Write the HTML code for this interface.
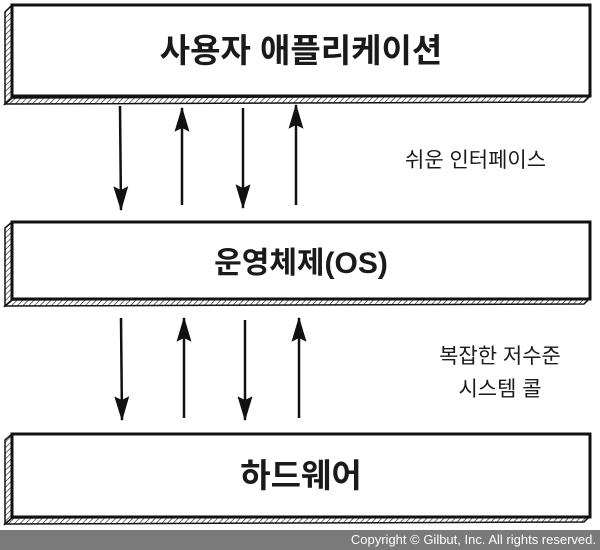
<!DOCTYPE html>
<html><head><meta charset="utf-8"><style>
body{margin:0;width:600px;height:550px;background:#fff;position:relative;overflow:hidden;font-family:"Liberation Sans","Noto Sans CJK KR","NanumGothic",sans-serif;}
.t{position:absolute;color:#1a1a1a;}
</style></head><body>
<svg width="600" height="550" style="position:absolute;left:0;top:0">
<defs>
<pattern id="h" width="4" height="4" patternUnits="userSpaceOnUse" patternTransform="rotate(45)"><line x1="0" y1="0" x2="0" y2="4" stroke="#222" stroke-width="1.3"/></pattern>
<marker id="a" viewBox="0 0 20 12" refX="19" refY="6" markerWidth="10" markerHeight="6" orient="auto"><path d="M0,0 L20,6 L0,12 L3,6z" fill="#111"/></marker>
</defs>
<g stroke="#111" stroke-width="3" fill="#fff">
<path d="M5,12 L12,5 L12,98 L5,104z" fill="url(#h)" stroke-width="1.5"/>
<path d="M5,104 L12,98 L590,96 L584,102z" fill="url(#h)" stroke-width="1.5"/>
<rect x="12" y="5" width="578" height="91"/>
<path d="M5,228 L12,222 L12,300 L5,306z" fill="url(#h)" stroke-width="1.5"/>
<path d="M5,306 L12,300 L590,298 L584,304z" fill="url(#h)" stroke-width="1.5"/>
<rect x="12" y="222" width="578" height="77"/>
<path d="M5,440 L12,434 L12,518 L5,524z" fill="url(#h)" stroke-width="1.5"/>
<path d="M5,524 L12,518 L590,516 L584,522z" fill="url(#h)" stroke-width="1.5"/>
<rect x="12" y="434" width="578" height="83"/>
</g>
<g stroke="#111" stroke-width="2.5" marker-end="url(#a)">
<line x1="120" y1="106" x2="121" y2="210"/>
<line x1="182" y1="205" x2="182" y2="108"/>
<line x1="243" y1="108" x2="243" y2="208"/>
<line x1="296" y1="205" x2="296" y2="105"/>
<line x1="121" y1="318" x2="122" y2="420"/>
<line x1="184" y1="418" x2="184" y2="318"/>
<line x1="245" y1="320" x2="245" y2="420"/>
<line x1="299" y1="418" x2="299" y2="318"/>
</g>
<rect x="0" y="530" width="600" height="20" fill="#7a7a7a"/>
</svg>
<div class="t" style="left:12px;width:578px;top:24px;text-align:center;font-size:33px;font-weight:bold;">사용자 애플리케이션</div>
<div class="t" style="left:12px;width:578px;top:238px;text-align:center;font-size:30px;font-weight:bold;">운영체제(OS)</div>
<div class="t" style="left:12px;width:578px;top:449px;text-align:center;font-size:33px;font-weight:bold;">하드웨어</div>
<div class="t" style="left:405px;top:144px;font-size:21px;">쉬운 인터페이스</div>
<div class="t" style="left:420px;top:340px;width:160px;text-align:center;font-size:21px;line-height:33px;">복잡한 저수준<br>시스템 콜</div>
<div class="t" style="right:4px;top:532px;font-size:13px;color:#fff;">Copyright © Gilbut, Inc. All rights reserved.</div>
</body></html>
